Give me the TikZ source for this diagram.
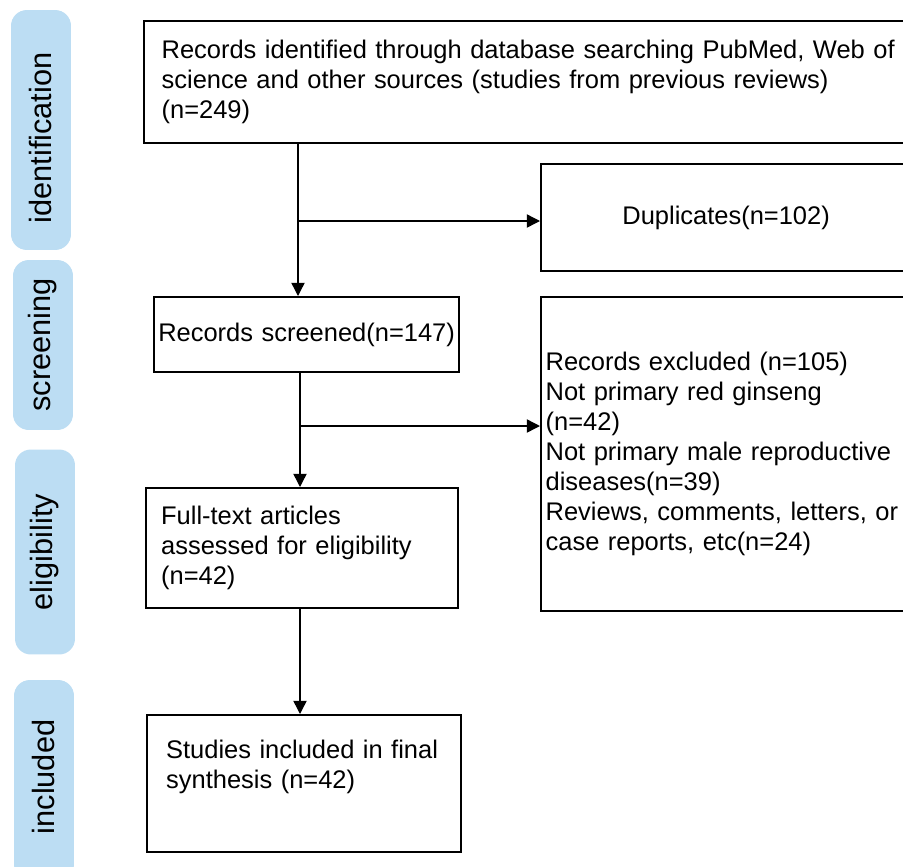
\documentclass[tikz,border=0pt]{standalone}
\usepackage{fontspec}
\setmainfont{Liberation Sans}
\usetikzlibrary{arrows.meta,positioning}

\definecolor{stagefill}{HTML}{BCDDF3}

\tikzset{
  stage/.style={fill=stagefill, rounded corners=9pt, minimum width=1.2cm},
  stagetext/.style={rotate=90, font=\fontsize{17.5}{20}\selectfont},
  flowbox/.style={draw, line width=1.3pt, anchor=north west, font=\fontsize{14.5}{17.07}\selectfont, inner sep=0pt},
  flowarrow/.style={line width=0.8pt, -{Triangle[length=7.5pt,width=7.5pt]}}
}

\begin{document}
\begin{tikzpicture}[x=0.02cm, y=-0.02cm]
  \useasboundingbox (0,0) rectangle (903,866);
  %\draw[help lines] (0,0) grid[step=50] (903,866);

  % stages on the left
  \node[stage, minimum height=4.8cm] (sIdent) at (41,130) {};
  \node[stagetext] (tIdent) at (41,138) {identification};
  \node[stage, minimum height=3.4cm] (sScreen) at (43,345) {};
  \node[stagetext] (tScreen) at (43,345) {screening};
  \node[stage, minimum height=4.1cm] (sElig) at (45,552) {};
  \node[stagetext] (tElig) at (45,552) {eligibility};
  \node[stage, minimum height=4.0cm] (sIncl) at (44,780) {};
  \node[stagetext] (tIncl) at (44,777) {included};

  % boxes
  \node[flowbox, minimum width=15.4cm, minimum height=2.44cm, text width=15.1cm, align=left] (ident) at (143,20)
    {\hspace*{0.2cm}Records identified through database searching PubMed, Web of\\
     \hspace*{0.2cm}science and other sources (studies from previous reviews)\\
     \hspace*{0.2cm}(n=249)};
  \node[flowbox, minimum width=7.4cm, minimum height=2.14cm, align=center, text width=7.3cm] (dupl) at (540,163)
    {Duplicates(n=102)};
  \node[flowbox, minimum width=6.1cm, minimum height=1.5cm, align=center, text width=6.1cm] (screen) at (153,296)
    {Records screened(n=147)};
  \node[flowbox, minimum width=7.4cm, minimum height=6.28cm, align=left, text width=7.3cm] (excl) at (540,296)
    {\hspace*{0.04cm}Records excluded (n=105)\\
     \hspace*{0.04cm}Not primary red ginseng\\
     \hspace*{0.04cm}(n=42)\\
     \hspace*{0.04cm}Not primary male reproductive\\
     \hspace*{0.04cm}diseases(n=39)\\
     \hspace*{0.04cm}Reviews, comments, letters, or\\
     \hspace*{0.04cm}case reports, etc(n=24)\\[0.16cm]};
  \node[flowbox, minimum width=6.24cm, minimum height=2.4cm, align=left, text width=6.2cm] (full) at (145,487)
    {\hspace*{0.28cm}Full-text articles\\
     \hspace*{0.28cm}assessed for eligibility\\
     \hspace*{0.28cm}(n=42)};
  \node[flowbox, minimum width=6.28cm, minimum height=2.74cm, align=left, text width=6.2cm] (incl) at (146,714)
    {\parbox[c][2.74cm][t]{6.2cm}{\vspace{0.5cm}\hspace*{0.34cm}Studies included in final\\
     \hspace*{0.34cm}synthesis (n=42)}};

  % connectors
  \coordinate (b1) at (298,221);
  \coordinate (b2) at (300,426);
  \draw[flowarrow] (ident.south -| b1) -- (screen.north -| b1);
  \draw[flowarrow] (b1) -- (b1 -| dupl.west);
  \draw[flowarrow] (screen.south -| b2) -- (full.north -| b2);
  \draw[flowarrow] (b2) -- (b2 -| excl.west);
  \draw[flowarrow] (full.south -| b2) -- (incl.north -| b2);
\end{tikzpicture}
\end{document}
